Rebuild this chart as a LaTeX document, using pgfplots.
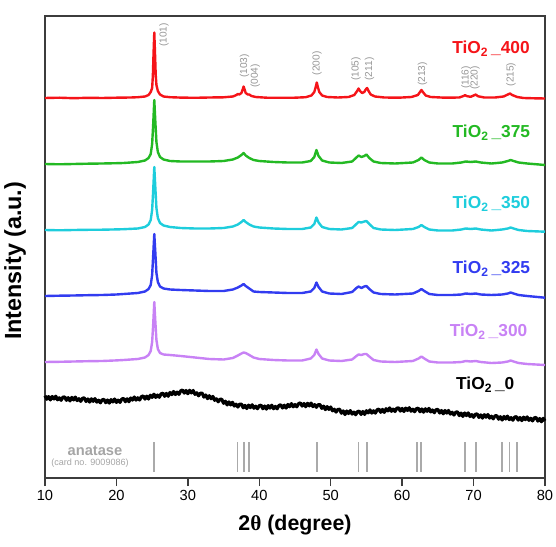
\documentclass[border=0pt]{standalone}
\usepackage{fontspec}
\setmainfont{Liberation Sans}
\newfontfamily\serifgr{Liberation Serif}
\usepackage{pgfplots}
\pgfplotsset{compat=1.18}
\definecolor{cRed}{RGB}{245,20,25}
\definecolor{cGreen}{RGB}{35,185,35}
\definecolor{cCyan}{RGB}{30,205,220}
\definecolor{cBlue}{RGB}{50,60,240}
\definecolor{cViolet}{RGB}{200,130,245}
\definecolor{cLab}{RGB}{150,150,150}
\definecolor{cAna}{RGB}{165,165,165}
\definecolor{cLine}{RGB}{170,170,170}
\definecolor{cAxis}{RGB}{60,60,60}
\newcommand{\tio}[1]{TiO\textsubscript{2}\,\_#1}
\begin{document}
\begin{tikzpicture}
\path[use as bounding box] (-33.75pt,-51pt) rectangle (383.25pt,358.5pt);
\begin{axis}[
  at={(0,0)}, anchor=south west,
  width=375pt, height=346.5pt, scale only axis,
  xmin=10, xmax=80, ymin=0, ymax=462,
  xtick={10,20,30,40,50,60,70,80}, ytick=\empty,
  xtick pos=left, tick align=outside, major tick length=6pt,
  axis line style={draw=cAxis, line width=1.1pt},
  tick style={draw=cAxis, line width=1.1pt},
  ticklabel style={font=\fontsize{11}{13}\selectfont},
  /pgf/number format/assume math mode=true,
  xlabel={\textbf{2{\serifgr\bfseries θ} (degree)}},
  ylabel={\textbf{Intensity (a.u.)}},
  every axis x label/.style={at={(axis description cs:0.5,0)}, anchor=center, yshift=-35pt, font=\fontsize{16}{19}\selectfont},
  every axis y label/.style={at={(axis description cs:-0.06,0.47)}, anchor=center, rotate=90, font=\fontsize{17.5}{21}\selectfont},
  unbounded coords=jump,
  clip=false,
]
% anatase reference lines
\addplot[draw=cLine, line width=1.4pt] coordinates {
(25.28,6.3) (25.28,36.3) (25.28,nan)
(36.95,6.3) (36.95,36.3) (36.95,nan)
(37.80,6.3) (37.80,36.3) (37.80,nan)
(38.58,6.3) (38.58,36.3) (38.58,nan)
(48.05,6.3) (48.05,36.3) (48.05,nan)
(53.89,6.3) (53.89,36.3) (53.89,nan)
(55.06,6.3) (55.06,36.3) (55.06,nan)
(62.12,6.3) (62.12,36.3) (62.12,nan)
(62.69,6.3) (62.69,36.3) (62.69,nan)
(68.76,6.3) (68.76,36.3) (68.76,nan)
(70.31,6.3) (70.31,36.3) (70.31,nan)
(74.03,6.3) (74.03,36.3) (74.03,nan)
(75.03,6.3) (75.03,36.3) (75.03,nan)
(76.02,6.3) (76.02,36.3)
};
% TiO2_0 (amorphous)
\addplot[black, line width=2.4pt, line join=round] coordinates {
(10,82.3) (10.25,78.8) (10.5,81.4) (10.75,78.1) (11,81.5) (11.25,79.0) (11.5,81.8) (11.75,78.2) (12,80.2) (12.25,77.7)
(12.5,80.7) (12.75,81.1) (13,77.7) (13.25,80.3) (13.5,77.1) (13.75,80.6) (14,78.1) (14.25,80.9) (14.5,77.4) (14.75,79.3)
(15,76.7) (15.25,79.7) (15.5,80.1) (15.75,76.5) (16,79.1) (16.25,75.9) (16.5,79.2) (16.75,76.7) (17,79.4) (17.25,75.9)
(17.5,77.8) (17.75,75.2) (18,78.1) (18.25,78.6) (18.5,75.3) (18.75,78.0) (19,74.9) (19.25,78.4) (19.5,76.1) (19.75,79.0)
(20,75.6) (20.25,77.9) (20.5,75.6) (20.75,78.9) (21,79.6) (21.25,76.3) (21.5,79.2) (21.75,76.3) (22,80.0) (22.25,77.9)
(22.5,81.0) (22.75,77.9) (23,80.2) (23.25,78.0) (23.5,81.3) (23.75,82.1) (24,78.9) (24.25,81.9) (24.5,79.0) (24.75,82.8)
(25,80.6) (25.25,83.8) (25.5,80.6) (25.75,83.0) (26,80.7) (26.25,84.1) (26.5,84.8) (26.75,81.7) (27,84.6) (27.25,81.8)
(27.5,85.5) (27.75,83.4) (28,86.5) (28.25,83.5) (28.5,85.9) (28.75,83.7) (29,87.1) (29.25,88.0) (29.5,84.9) (29.75,87.5)
(30,84.3) (30.25,87.7) (30.5,85.1) (30.75,87.5) (31,83.6) (31.25,85.2) (31.5,82.2) (31.75,84.8) (32,84.8) (32.25,80.9)
(32.5,83.0) (32.75,79.4) (33,82.3) (33.25,79.3) (33.5,81.6) (33.75,77.7) (34,79.2) (34.25,76.2) (34.5,78.7) (34.75,78.7)
(35,74.7) (35.25,76.8) (35.5,73.1) (35.75,76.1) (36,73.1) (36.25,75.7) (36.5,72.0) (36.75,73.8) (37,71.0) (37.25,73.8)
(37.5,73.9) (37.75,70.2) (38,72.6) (38.25,69.5) (38.5,72.9) (38.75,70.4) (39,73.2) (39.25,69.8) (39.5,71.8) (39.75,69.3)
(40,72.3) (40.25,72.8) (40.5,69.3) (40.75,72.0) (41,68.9) (41.25,72.4) (41.5,69.9) (41.75,72.8) (42,69.3) (42.25,71.6)
(42.5,69.2) (42.75,72.5) (43,73.2) (43.25,70.0) (43.5,72.8) (43.75,69.9) (44,73.5) (44.25,71.3) (44.5,74.4) (44.75,71.2)
(45,73.5) (45.25,71.2) (45.5,74.4) (45.75,75.1) (46,71.9) (46.25,74.5) (46.5,71.3) (46.75,74.7) (47,72.1) (47.25,74.9)
(47.5,71.4) (47.75,73.4) (48,70.7) (48.25,73.4) (48.5,73.4) (48.75,69.6) (49,71.9) (49.25,68.4) (49.5,71.4) (49.75,68.6)
(50,71.0) (50.25,67.2) (50.5,68.8) (50.75,65.9) (51,68.6) (51.25,68.7) (51.5,64.8) (51.75,67.1) (52,63.5) (52.25,67.0)
(52.5,64.5) (52.75,67.4) (53,63.9) (53.25,65.9) (53.5,63.3) (53.75,66.4) (54,66.8) (54.25,63.6) (54.5,66.5) (54.75,63.6)
(55,67.3) (55.25,65.1) (55.5,68.1) (55.75,64.9) (56,67.2) (56.25,64.9) (56.5,68.2) (56.75,68.9) (57,65.7) (57.25,68.6)
(57.5,65.6) (57.75,69.3) (58,67.1) (58.25,70.1) (58.5,66.7) (58.75,68.9) (59,66.5) (59.25,69.7) (59.5,70.2) (59.75,66.9)
(60,69.6) (60.25,66.5) (60.5,69.9) (60.75,67.5) (61,70.3) (61.25,66.8) (61.5,68.8) (61.75,66.3) (62,69.3) (62.25,69.8)
(62.5,66.3) (62.75,69.0) (63,65.8) (63.25,69.2) (63.5,66.7) (63.75,69.6) (64,66.1) (64.25,68.0) (64.5,65.3) (64.75,68.3)
(65,68.6) (65.25,65.0) (65.5,67.5) (65.75,64.2) (66,67.5) (66.25,64.9) (66.5,67.5) (66.75,63.9) (67,65.7) (67.25,63.0)
(67.5,65.8) (67.75,66.1) (68,62.4) (68.25,64.9) (68.5,61.6) (68.75,65.0) (69,62.4) (69.25,65.1) (69.5,61.5) (69.75,63.4)
(70,60.7) (70.25,63.7) (70.5,64.1) (70.75,60.6) (71,63.1) (71.25,59.9) (71.5,63.3) (71.75,60.8) (72,63.5) (72.25,59.9)
(72.5,61.8) (72.75,59.2) (73,62.1) (73.25,62.4) (73.5,58.8) (73.75,61.3) (74,58.0) (74.25,61.5) (74.5,59.0) (74.75,61.9)
(75,58.4) (75.25,60.4) (75.5,57.8) (75.75,60.9) (76,61.3) (76.25,57.9) (76.5,60.5) (76.75,57.4) (77,60.8) (77.25,58.3)
(77.5,61.1) (77.75,57.7) (78,59.7) (78.25,57.1) (78.5,60.1) (78.75,60.5) (79,56.9) (79.25,59.5) (79.5,56.3) (79.75,59.7)
(80,57.1)
};
% TiO2_300
\addplot[cViolet, line width=1.8pt, line join=round] coordinates {
(10,116) (12,116.2) (14,116.5) (16,116.8) (18,117) (20,117.6) (21,118) (23,119) (24,120.5) (24.5,123)
(24.8,127) (25.0,136) (25.15,154) (25.3,176) (25.45,156) (25.6,138) (25.8,129) (26.1,125) (26.6,123.5)
(27.5,123) (29,122) (31,120.5) (33,119) (35,118.5) (36.3,120) (37.0,122.5) (37.5,124.5) (37.8,125.5)
(38.1,125) (38.6,123) (39.2,120.5) (40,119) (42,118) (44,117.5) (46,117.5) (47.2,119.5) (47.7,123)
(48.0,128.5) (48.3,124) (48.8,119.5) (49.8,117.5) (51.5,117) (53,118.5) (53.6,122) (53.9,123.5) (54.3,123)
(54.7,124) (55.0,124) (55.4,121.5) (56,118) (57,116.5) (59,116) (61.5,117) (62.3,119.5) (62.7,121.5)
(63.1,119.5) (63.8,116.5) (65,115.5) (67,115.5) (68.3,116) (68.9,117) (69.6,116.5) (70.3,117) (71,116)
(72.5,115) (74,115.5) (74.8,116.5) (75.2,117.5) (75.6,116.5) (76.3,115) (77.5,114) (80,113)
};
% TiO2_325
\addplot[cBlue, line width=1.8pt, line join=round] coordinates {
(10,182) (12,182.3) (14,182.5) (16,182.8) (18,183) (20,183.5) (21,184) (23,185) (24,186.5) (24.5,189)
(24.8,193) (25.0,203) (25.15,223) (25.3,244) (25.45,225) (25.6,205) (25.8,196) (26.1,191.5) (26.6,189.5)
(27.5,188.5) (29,188) (31,187.5) (33,187) (35,187) (36.3,188.5) (37.0,190.5) (37.5,192.5) (37.8,194)
(38.1,192) (38.6,189.5) (39.2,186.5) (40,186) (42,185.5) (44,185) (46,185) (47.2,186.5) (47.7,190)
(48.0,195.5) (48.3,191) (48.8,186.5) (49.8,184.5) (51.5,184) (53,186) (53.6,190) (53.9,191.5) (54.3,190)
(54.7,191.5) (55.0,192) (55.4,189) (56,185.5) (57,184) (59,183.5) (61.5,184.5) (62.3,187) (62.7,189)
(63.1,187) (63.8,184) (65,183) (67,183) (68.3,183.5) (68.9,184.5) (69.6,184) (70.3,184.5) (71,183.5)
(72.5,183) (74,183.5) (74.8,184.5) (75.2,185.5) (75.6,184.5) (76.3,183) (77.5,182) (80,180.3)
};
% TiO2_350
\addplot[cCyan, line width=1.8pt, line join=round] coordinates {
(10,248) (12,247.7) (14,248) (16,248.2) (18,248.3) (20,248.6) (21,248.8) (23,249.5) (24,251) (24.5,253.5)
(24.8,258) (25.0,268) (25.15,288) (25.3,311) (25.45,290) (25.6,270) (25.8,260) (26.1,255) (26.6,252.5)
(27.5,251) (29,250) (31,249.5) (33,249.5) (35,250) (36.3,251.5) (37.0,253.5) (37.5,256) (37.8,258)
(38.1,256) (38.6,253.5) (39.2,251.5) (40,250.5) (42,249.5) (44,249) (46,249) (47.2,250.5) (47.7,254)
(48.0,260.5) (48.3,255.5) (48.8,251) (49.8,249) (51.5,248.5) (53,250) (53.6,254) (53.9,256) (54.3,255.5)
(54.7,256.5) (55.0,257) (55.4,254) (56,250) (57,248.5) (59,248) (61.5,249) (62.3,251) (62.7,253)
(63.1,251) (63.8,248.5) (65,247.5) (67,247.5) (68.3,248.5) (68.9,249.5) (69.6,249) (70.3,249.5) (71,248.5)
(72.5,247.5) (74,248.5) (74.8,249.5) (75.2,250.5) (75.6,249.5) (76.3,248) (77.5,247) (80,246.3)
};
% TiO2_375
\addplot[cGreen, line width=1.8pt, line join=round] coordinates {
(10,314) (12,313.7) (14,314) (16,314.3) (18,314.5) (20,314.8) (21,315) (23,316) (24,317.5) (24.5,320)
(24.8,324) (25.0,334) (25.15,354) (25.3,378) (25.45,356) (25.6,336) (25.8,326) (26.1,321) (26.6,318.5)
(27.5,317) (29,316.5) (31,316.5) (33,316.5) (35,317) (36.3,318.5) (37.0,320.5) (37.5,323) (37.8,325)
(38.1,322.5) (38.6,320) (39.2,318) (40,317) (42,316) (44,315.5) (46,315.5) (47.2,317) (47.7,321)
(48.0,328) (48.3,322) (48.8,317.5) (49.8,315.5) (51.5,315) (53,316.5) (53.6,320.5) (53.9,322.5) (54.3,321)
(54.7,322) (55.0,323.5) (55.4,320) (56,316.5) (57,315) (59,314.5) (61.5,315.5) (62.3,318) (62.7,320.5)
(63.1,318) (63.8,315.5) (65,314.5) (67,314.5) (68.3,315.5) (68.9,316.5) (69.6,316) (70.3,316.5) (71,315.5)
(72.5,314.5) (74,315.5) (74.8,317) (75.2,318) (75.6,317) (76.3,315.5) (77.5,314.5) (80,313)
};
% TiO2_400
\addplot[cRed, line width=1.8pt, line join=round] coordinates {
(10,380) (12,380.3) (14,379.8) (16,380.2) (18,380) (20,380.3) (22,380.5) (23,380.8) (24,381.5) (24.5,383)
(24.8,386) (25.0,390) (25.1,402) (25.2,425) (25.3,445.5) (25.4,425) (25.5,403) (25.6,393) (25.8,387)
(26.1,383.5) (26.6,381.5) (27.5,380.8) (29,380.4) (31,380.2) (33,380.5) (35,380.7) (36.3,381.5) (36.8,383)
(37.0,384) (37.2,383.5) (37.5,385) (37.7,389) (37.8,391.5) (37.9,389.5) (38.1,385) (38.4,383.5) (38.6,383.5)
(38.9,382) (39.5,381) (41,380.3) (43,380.2) (45,380.3) (46.5,380.8) (47.3,382.5) (47.7,386) (47.9,391)
(48.05,395.5) (48.2,391) (48.4,386) (48.8,382.5) (49.5,381) (51,380.5) (52.5,381) (53.3,383) (53.7,387)
(53.9,389.5) (54.1,387) (54.4,385) (54.7,386) (54.9,388.5) (55.1,390) (55.3,387) (55.6,383.5) (56.2,381.5)
(57.5,380.5) (59.5,380.3) (61.3,381) (62.2,383) (62.5,386) (62.7,388) (62.9,386) (63.3,382.5) (64,381)
(66,380.3) (68,380.5) (68.6,382) (68.8,382.8) (69.1,381.8) (69.6,381.2) (70.1,382.8) (70.3,383.5) (70.6,381.8)
(71.5,380.5) (73,380.5) (74.2,381.5) (74.8,383.5) (75.1,384.5) (75.4,383) (76.1,381) (77,380) (78.5,379.7)
(80,379.5)
};
% peak labels
\begin{scope}[every node/.style={rotate=90, text=cLab, font=\fontsize{7.6}{9}\selectfont, inner sep=0pt, anchor=center}]
\node at (axis cs:26.66,443) {(101)};
\node at (axis cs:37.93,412) {(103)};
\node at (axis cs:39.44,402) {(004)};
\node at (axis cs:48.08,414.7) {(200)};
\node at (axis cs:53.54,409) {(105)};
\node at (axis cs:55.43,409) {(211)};
\node at (axis cs:62.85,404) {(213)};
\node at (axis cs:68.94,400.5) {(116)};
\node at (axis cs:70.2,400) {(220)};
\node at (axis cs:75.24,403.5) {(215)};
\end{scope}
% sample labels
\begin{scope}[every node/.style={font=\fontsize{13}{15}\selectfont\bfseries, inner sep=0pt, anchor=center}]
\node[text=cRed] at (axis cs:72.44,429) {\tio{400}};
\node[text=cGreen] at (axis cs:72.5,345) {\tio{375}};
\node[text=cCyan] at (axis cs:72.5,274) {\tio{350}};
\node[text=cBlue] at (axis cs:72.5,209.7) {\tio{325}};
\node[text=cViolet] at (axis cs:72.1,146) {\tio{300}};
\node[text=black] at (axis cs:71.64,93) {\tio{0}};
\end{scope}
\node[text=cAna, font=\fontsize{11}{13}\selectfont\bfseries, inner sep=0pt] at (axis cs:17.0,27) {anatase};
\node[text=cAna, font=\fontsize{6.8}{8}\selectfont, inner sep=0pt] at (axis cs:16.3,15.3) {(card no. 9009086)};
\end{axis}
\end{tikzpicture}
\end{document}
